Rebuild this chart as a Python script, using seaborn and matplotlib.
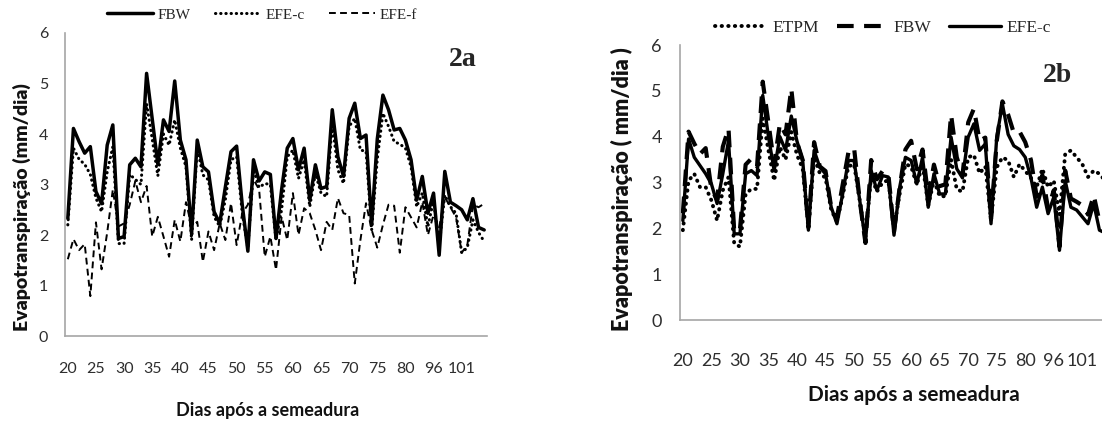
import matplotlib
matplotlib.use("Agg")
import matplotlib.pyplot as plt
import pandas as pd
import seaborn as sns

# categories: days after sowing (the axis is categorical, gap after day 80)
days = list(range(20, 81)) + list(range(92, 106))
tick_labels = ["20", "25", "30", "35", "40", "45", "50", "55", "60",
               "65", "70", "75", "80", "96", "101"]

# evapotranspiration (mm/dia)
fbw = [2.33, 4.11, 3.85, 3.62, 3.75, 2.86, 2.62, 3.78, 4.18, 1.93,
       1.97, 3.39, 3.52, 3.35, 5.20, 4.30, 3.40, 4.28, 4.05, 5.05,
       3.88, 3.49, 2.03, 3.88, 3.35, 3.25, 2.46, 2.23, 2.95, 3.65,
       3.76, 2.60, 1.68, 3.49, 3.07, 3.25, 3.20, 1.93, 2.90, 3.72,
       3.91, 3.29, 3.72, 2.69, 3.39, 2.92, 2.96, 4.48, 3.55, 3.16,
       4.31, 4.61, 3.91, 3.98, 2.20, 3.90, 4.77, 4.48, 4.08, 4.11,
       3.88, 3.49, 2.69, 3.16, 2.43, 2.83, 1.60, 3.26, 2.65, 2.58,
       2.50, 2.30, 2.72, 2.15, 2.10]

efe_c_a = [2.20, 3.72, 3.50, 3.40, 3.20, 2.73, 2.46, 3.25, 3.75, 1.83,
           1.83, 3.20, 3.10, 3.00, 4.60, 3.90, 3.17, 4.00, 3.78, 4.28,
           3.72, 3.35, 1.90, 3.72, 3.19, 3.09, 2.36, 2.17, 2.70, 3.49,
           3.55, 2.43, 1.74, 3.29, 2.94, 3.02, 3.00, 1.90, 2.50, 3.55,
           3.68, 3.12, 3.49, 2.56, 3.22, 2.83, 2.76, 4.21, 3.29, 3.02,
           4.15, 4.31, 3.68, 3.66, 2.10, 3.50, 4.41, 4.15, 3.85, 3.80,
           3.72, 3.35, 2.56, 2.83, 2.17, 2.69, 1.80, 2.79, 2.56, 2.43,
           1.65, 1.75, 2.30, 2.05, 1.87]

efe_f = [1.52, 1.92, 1.70, 1.82, 0.79, 2.25, 1.32, 2.05, 2.90, 2.17,
         2.23, 2.60, 3.07, 2.65, 2.97, 1.97, 2.36, 1.97, 1.57, 2.30,
         1.87, 2.65, 2.17, 2.26, 1.47, 2.07, 1.70, 2.23, 1.90, 2.63,
         1.80, 2.43, 2.60, 3.10, 2.90, 1.57, 1.97, 1.31, 2.36, 1.90,
         2.83, 2.00, 2.53, 2.43, 2.10, 1.70, 2.26, 2.10, 2.73, 2.43,
         2.40, 1.04, 1.90, 2.63, 2.10, 1.75, 2.20, 2.60, 2.58, 1.65,
         2.55, 2.35, 2.15, 2.65, 2.00, 2.40, 2.15, 2.75, 2.55, 2.35,
         1.65, 1.80, 2.60, 2.55, 2.62]

etpm = [1.96, 3.04, 3.19, 2.90, 2.90, 2.61, 2.17, 2.83, 3.12, 1.67,
        1.60, 2.75, 2.86, 2.86, 4.40, 3.70, 3.04, 3.77, 3.50, 4.10,
        3.60, 3.30, 2.00, 3.55, 3.20, 3.10, 2.40, 2.15, 2.70, 3.35,
        3.40, 2.60, 1.80, 3.15, 2.80, 3.00, 3.05, 2.00, 2.75, 3.40,
        3.35, 2.95, 3.40, 2.50, 3.05, 2.70, 2.70, 3.50, 2.85, 2.80,
        3.55, 3.60, 3.20, 3.35, 2.20, 3.33, 3.55, 3.48, 3.12, 3.40,
        3.25, 3.10, 2.90, 3.30, 2.90, 3.04, 2.30, 3.62, 3.70, 3.55,
        3.40, 3.12, 3.26, 3.19, 3.04]

efe_c_b = [2.17, 3.95, 3.55, 3.37, 3.19, 2.97, 2.54, 3.19, 3.91, 1.88,
           1.88, 3.19, 3.26, 3.15, 4.90, 4.00, 3.26, 4.00, 3.70, 4.45,
           3.90, 3.48, 1.96, 3.70, 3.33, 3.19, 2.46, 2.10, 2.75, 3.48,
           3.48, 2.61, 1.70, 3.26, 2.83, 3.15, 3.12, 1.85, 2.90, 3.55,
           3.48, 2.97, 3.55, 2.46, 3.19, 2.75, 2.75, 3.99, 3.30, 3.10,
           3.99, 4.28, 3.70, 3.84, 2.10, 3.99, 4.71, 4.05, 3.80, 3.72,
           3.55, 3.10, 2.46, 2.90, 2.32, 2.68, 1.52, 3.04, 2.46, 2.40,
           2.25, 2.10, 2.54, 1.96, 1.90]

df = pd.DataFrame({"pos": range(len(days)), "dia": days,
                   "FBW": fbw, "EFE-c a": efe_c_a, "EFE-f": efe_f,
                   "ETPM": etpm, "EFE-c b": efe_c_b})

sns.set_style("white")
plt.rcParams["font.family"] = ["Lato", "DejaVu Sans"]

W, H = 1102, 423
fig = plt.figure(figsize=(W / 100, H / 100), dpi=100)
ax1 = fig.add_axes([65 / W, 87 / H, 422 / W, 303 / H])
ax2 = fig.add_axes([680 / W, 103 / H, 428 / W, 275 / H])

dotted = dict(linestyle=(0, (0.1, 1.6)), dash_capstyle="round")

# panel 2a
sns.lineplot(data=df, x="pos", y="FBW", ax=ax1, color="black", lw=2.5,
             label="FBW")
sns.lineplot(data=df, x="pos", y="EFE-c a", ax=ax1, color="black", lw=2.2,
             label="EFE-c", **dotted)
sns.lineplot(data=df, x="pos", y="EFE-f", ax=ax1, color="black", lw=1.4,
             linestyle=(0, (3.5, 2.2)), label="EFE-f")

# panel 2b
sns.lineplot(data=df, x="pos", y="ETPM", ax=ax2, color="black", lw=2.8,
             label="ETPM", **dotted)
sns.lineplot(data=df, x="pos", y="FBW", ax=ax2, color="black", lw=3.0,
             linestyle=(0, (4, 2.5)), label="FBW")
sns.lineplot(data=df, x="pos", y="EFE-c b", ax=ax2, color="black", lw=2.4,
             label="EFE-c")

tick_pos = list(range(0, len(days), 5))
for ax, fs, xpad, ypad in [(ax1, 11.5, 19, 12), (ax2, 13, 24, 13)]:
    ax.set_xlim(-0.5, len(days) - 0.5)
    ax.set_ylim(0, 6)
    ax.set_xticks(tick_pos)
    ax.set_xticklabels(tick_labels)
    ax.set_yticks(range(0, 7))
    ax.tick_params(axis="x", length=0, pad=xpad, labelsize=fs, colors="#2e2e2e")
    ax.tick_params(axis="y", length=0, pad=ypad, labelsize=fs, colors="#2e2e2e")
    ax.set_xlabel("")
    ax.set_ylabel("")
    for side in ["top", "right"]:
        ax.spines[side].set_visible(False)
    for side in ["left", "bottom"]:
        ax.spines[side].set_color("#a6a6a6")
        ax.spines[side].set_linewidth(1.2)

ax1.legend(loc="center", bbox_to_anchor=(262 / W, 1 - 15 / H),
           bbox_transform=fig.transFigure, ncol=3, frameon=False,
           prop={"family": "Liberation Serif", "size": 11},
           handlelength=3.0, handletextpad=0.3, columnspacing=1.6)
ax2.legend(loc="center", bbox_to_anchor=(883 / W, 1 - 28 / H),
           bbox_transform=fig.transFigure, ncol=3, frameon=False,
           prop={"family": "Liberation Serif", "size": 12.5},
           handlelength=3.0, handletextpad=0.3, columnspacing=1.0)

fig.text(463 / W, 1 - 60 / H, "2a", family="Liberation Serif",
         weight="bold", size=20, ha="center", va="center")
fig.text(1058 / W, 1 - 75 / H, "2b", family="Liberation Serif",
         weight="bold", size=20, ha="center", va="center")

label_font = ["Lato", "DejaVu Sans"]
fig.text(22 / W, 1 - 207 / H, "Evapotranspiração (mm/dia)", rotation=90,
         family=label_font, weight="heavy", size=14, ha="center",
         va="center", color="#111111")
fig.text(622 / W, 1 - 189 / H, "Evapotranspiração ( mm/dia )", rotation=90,
         family=label_font, weight="heavy", size=15.5, ha="center",
         va="center", color="#111111")
fig.text(268 / W, 1 - 410 / H, "Dias após a semeadura", family=label_font,
         weight="bold", size=13, ha="center", va="center", color="#111111")
fig.text(914 / W, 1 - 395 / H, "Dias após a semeadura", family=label_font,
         weight="bold", size=15, ha="center", va="center", color="#111111")

fig.savefig("out.png", dpi=100)
